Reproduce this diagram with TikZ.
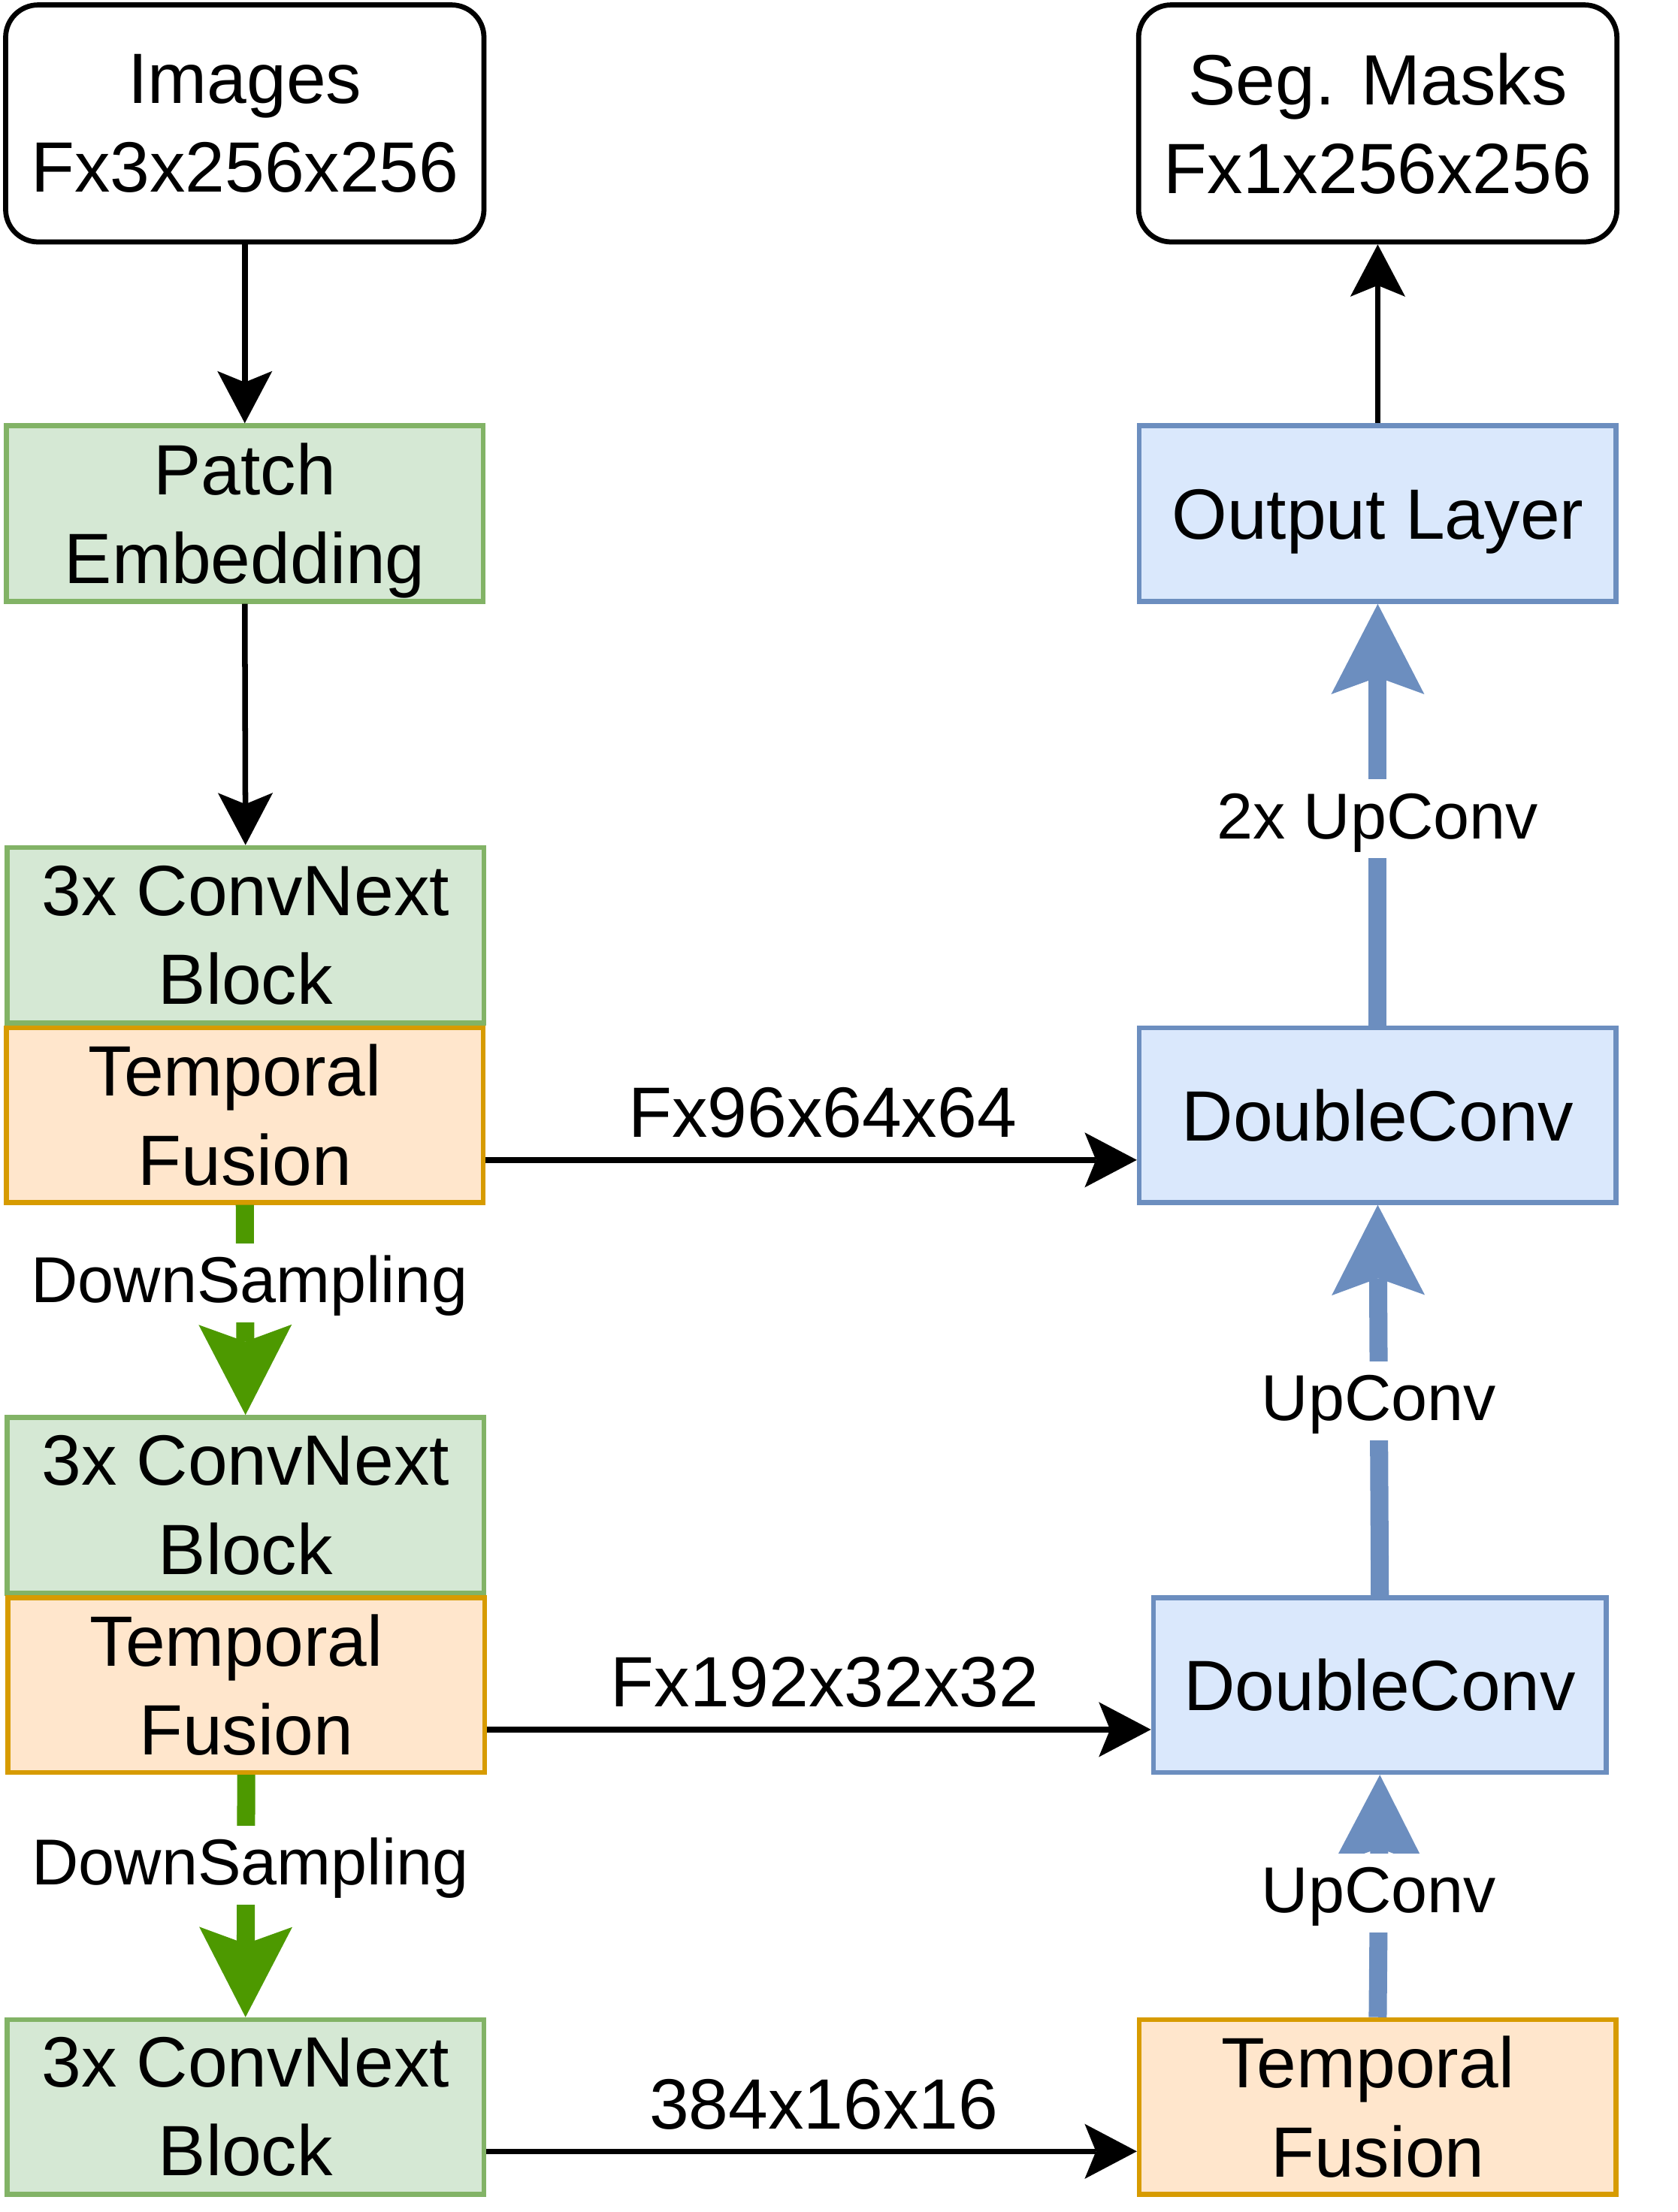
\documentclass[tikz,border=0pt]{standalone}
\usepackage{fontspec}
\setmainfont{Liberation Sans}
\usetikzlibrary{arrows.meta}
\definecolor{gfill}{HTML}{D5E8D4}
\definecolor{gline}{HTML}{82B366}
\definecolor{ofill}{HTML}{FFE6CC}
\definecolor{oline}{HTML}{D79B00}
\definecolor{bfill}{HTML}{DAE8FC}
\definecolor{bline}{HTML}{6C8EBF}
\definecolor{darr}{HTML}{4D9900}
\newcommand\bxfont{\fontsize{50.5}{63}\selectfont}
\newcommand\lbfont{\fontsize{46}{55}\selectfont}
\tikzset{
  base/.style={font=\bxfont, align=center, inner sep=0pt},
  oneline/.style={text height=36pt, text depth=0pt},
  term/.style={base, draw=black, line width=3.6pt, rounded corners=23pt, minimum width=339pt, minimum height=168pt},
  gbox/.style={base, draw=gline, fill=gfill, line width=3.5pt, minimum width=338pt, minimum height=124.5pt},
  obox/.style={base, draw=oline, fill=ofill, line width=3.5pt, minimum width=338pt, minimum height=123.7pt},
  bbox/.style={base, draw=bline, fill=bfill, line width=3.5pt, minimum width=338pt, minimum height=123.7pt},
  blk/.style={draw=black, line width=4pt, -{Stealth[length=37pt,width=39pt,inset=8pt,line width=0pt]}},
  thk/.style={line width=12.8pt, -{Stealth[length=64pt,width=66pt,inset=12pt,line width=0pt]}},
  garr/.style={thk, draw=darr},
  barr/.style={thk, draw=bline},
  wlbl/.style={fill=white, font=\lbfont, text=black, text height=36pt, text depth=8pt, inner xsep=3pt, inner ysep=6pt},
  tlbl/.style={font=\bxfont, anchor=base, yshift=16pt, inner sep=0pt},
}
\begin{document}
\begin{tikzpicture}[x=1pt,y=-1pt]
\useasboundingbox (0,0) rectangle (1189,1568);
% left column
\node[term] (img) at (173.5,87.5) {Images\\Fx3x256x256};
\node[gbox] (patch) at (173.5,364) {Patch\\\smash{Embedding}};
\node[gbox] (cn1) at (174,663) {3x ConvNext\\Block};
\node[obox] (tf1) at (173.5,790.5) {Temporal\hspace*{14pt}\\Fusion};
\node[gbox] (cn2) at (174,1067) {3x ConvNext\\Block};
\node[obox] (tf2) at (174.5,1194.5) {Temporal\hspace*{14pt}\\Fusion};
\node[gbox, minimum height=123.7pt] (cn3) at (174,1493.5) {3x ConvNext\\Block};
% right column
\node[term] (seg) at (976.5,87.5) {Seg. Masks\\Fx1x256x256};
\node[bbox, oneline, minimum height=124.7pt] (out) at (976.5,364) {Output Layer};
\node[bbox, oneline] (dc1) at (976.5,790.5) {DoubleConv};
\node[bbox, oneline, minimum width=321pt] (dc2) at (978,1194.5) {DoubleConv};
\node[obox] (tfr) at (976.5,1493.5) {Temporal\hspace*{14pt}\\Fusion};
% black connectors
\draw[blk] (img.south) -- (patch.north);
\draw[blk] (patch.south) -- (cn1.north);
\draw[blk] (out.north) -- (seg.south);
\draw[blk] ([yshift=-31.75pt]tf1.east) -- node[tlbl, midway, xshift=8pt] {Fx96x64x64} ([yshift=-31.75pt]dc1.west);
\draw[blk] ([yshift=-31.5pt]tf2.east) -- node[tlbl, midway, xshift=4pt] {Fx192x32x32} ([yshift=-31.5pt]dc2.west);
\draw[blk] ([yshift=-31.5pt]cn3.east) -- node[tlbl, midway, xshift=8.5pt] {384x16x16} ([yshift=-31.5pt]tfr.west);
% green downsampling
\draw[garr] (tf1.south) -- node[wlbl, pos=0.37, xshift=3pt] {DownSampling} (cn2.north);
\draw[garr] (tf2.south) -- node[wlbl, pos=0.372, xshift=3pt] {DownSampling} (cn3.north);
% blue upconv
\draw[barr] (tfr.north) -- node[wlbl, pos=0.512] {UpConv} (dc2.south);
\draw[barr] (dc2.north) -- node[wlbl, pos=0.498] {UpConv} (dc1.south);
\draw[barr] (dc1.north) -- node[wlbl, pos=0.49] {2x UpConv} (out.south);
\end{tikzpicture}
\end{document}
